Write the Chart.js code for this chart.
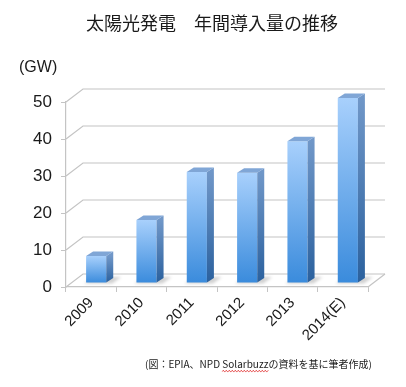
<!DOCTYPE html>
<html>
<head>
<meta charset="utf-8">
<script src="https://cdn.jsdelivr.net/npm/chart.js@4/dist/chart.umd.min.js"></script>
<style>
  html, body { margin: 0; padding: 0; background: #fff; }
  canvas { display: block; }
</style>
</head>
<body>
<canvas id="solarChart" width="406" height="387"></canvas>
<script>
// データ
const years = ['2009', '2010', '2011', '2012', '2013', '2014(E)'];
const installedGW = [7.3, 17, 30, 29.8, 38.3, 50];
const yMin = 0, yMax = 50, yStep = 10;

const titleText = '太陽光発電　年間導入量の推移';
const unitText = '(GW)';
const sourcePre = '(図：EPIA、NPD ';
const sourceWavy = 'Solarbuzz';
const sourcePost = 'の資料を基に筆者作成)';

// 3D look
const WALL_DX = 17, WALL_DY = 13;   // back wall offset
const BAR_DX = 7, BAR_DY = 4.5;     // bar thickness
const SHIFT_X = 5, SHIFT_Y = -4;    // bars sit a bit inside the floor
const lineGray = '#c4c4c4';
const textColor = '#1a1a1a';
const latinFont = '"Liberation Sans", Arial, sans-serif';
const cjkFont = '"Noto Sans CJK JP", "Liberation Sans", sans-serif';

const box3d = {
    id: 'box3d',
    beforeDatasetsDraw(chart) {
        const { ctx, chartArea: a, scales: { y } } = chart;
        ctx.save();
        ctx.strokeStyle = lineGray;
        ctx.lineWidth = 1.2;
        // back wall grid lines + diagonals from the front axis
        for (let v = yMin; v <= yMax; v += yStep) {
            const py = y.getPixelForValue(v);
            ctx.beginPath();
            ctx.moveTo(a.left, py);
            ctx.lineTo(a.left + WALL_DX, py - WALL_DY);
            ctx.lineTo(a.right + WALL_DX, py - WALL_DY);
            ctx.stroke();
        }
        // right edge of the floor
        ctx.beginPath();
        ctx.moveTo(a.right, a.bottom);
        ctx.lineTo(a.right + WALL_DX, a.bottom - WALL_DY);
        ctx.stroke();

        // soft shadows on the floor
        const meta = chart.getDatasetMeta(0);
        ctx.fillStyle = 'rgba(0,0,0,0.18)';
        ctx.filter = 'blur(1.5px)';
        meta.data.forEach(bar => {
            const l = bar.x - bar.width / 2 + SHIFT_X;
            const r = bar.x + bar.width / 2 + SHIFT_X;
            const b = bar.base + SHIFT_Y;
            ctx.beginPath();
            ctx.moveTo(l - 2, b + 1);
            ctx.lineTo(r + 6, b + 1);
            ctx.lineTo(r + BAR_DX + 8, b - BAR_DY - 1);
            ctx.lineTo(l + BAR_DX, b - BAR_DY - 1);
            ctx.closePath();
            ctx.fill();
        });
        ctx.restore();

        ctx.save();
        ctx.translate(SHIFT_X, SHIFT_Y);
    },
    afterDatasetsDraw(chart) {
        const { ctx } = chart;
        const meta = chart.getDatasetMeta(0);
        meta.data.forEach(bar => {
            const r = bar.x + bar.width / 2;
            const l = bar.x - bar.width / 2;
            const t = bar.y, b = bar.base;
            // side face
            const side = ctx.createLinearGradient(0, t, 0, b);
            side.addColorStop(0, '#7097c8');
            side.addColorStop(1, '#2b619e');
            ctx.fillStyle = side;
            ctx.beginPath();
            ctx.moveTo(r, t);
            ctx.lineTo(r + BAR_DX, t - BAR_DY);
            ctx.lineTo(r + BAR_DX, b - BAR_DY);
            ctx.lineTo(r, b);
            ctx.closePath();
            ctx.fill();
            // top face
            ctx.fillStyle = '#80a6d6';
            ctx.beginPath();
            ctx.moveTo(l, t);
            ctx.lineTo(l + BAR_DX, t - BAR_DY);
            ctx.lineTo(r + BAR_DX, t - BAR_DY);
            ctx.lineTo(r, t);
            ctx.closePath();
            ctx.fill();
        });
        ctx.restore();
    },
    afterDraw(chart) {
        const { ctx } = chart;
        ctx.save();
        ctx.fillStyle = textColor;
        ctx.textBaseline = 'middle';
        // title
        ctx.font = '18px ' + cjkFont;
        ctx.textAlign = 'center';
        ctx.fillText(titleText, 212, 23);
        // unit
        ctx.font = '16px ' + latinFont;
        ctx.textAlign = 'left';
        ctx.fillText(unitText, 19, 68);
        // source note
        ctx.font = '10px ' + cjkFont;
        const x0 = 145, ys = 364;
        ctx.fillText(sourcePre + sourceWavy + sourcePost, x0, ys);
        const wx = x0 + ctx.measureText(sourcePre).width;
        const ww = ctx.measureText(sourceWavy).width;
        ctx.strokeStyle = '#e03030';
        ctx.lineWidth = 0.8;
        ctx.beginPath();
        for (let i = 0; i <= ww; i += 1) {
            const yy = ys + 7 + (i % 3 === 1 ? -0.8 : 0.6);
            if (i === 0) ctx.moveTo(wx + i, yy); else ctx.lineTo(wx + i, yy);
        }
        ctx.stroke();
        ctx.restore();
    }
};

const ctx = document.getElementById('solarChart').getContext('2d');
new Chart(ctx, {
    type: 'bar',
    data: {
        labels: years,
        datasets: [{
            data: installedGW,
            clip: false,
            categoryPercentage: 1,
            barPercentage: 0.4,
            borderWidth: 0,
            backgroundColor: (c) => {
                const chart = c.chart;
                const y = chart.scales && chart.scales.y;
                if (!chart.chartArea || !y || c.type !== 'data') return '#6aaef0';
                const top = y.getPixelForValue(c.raw);
                const g = chart.ctx.createLinearGradient(0, top, 0, y.getPixelForValue(0));
                g.addColorStop(0, '#a8d0fc');
                g.addColorStop(1, '#3a8bdc');
                return g;
            }
        }]
    },
    options: {
        responsive: false,
        devicePixelRatio: 1,
        animation: false,
        layout: { padding: { top: 102, right: 38, bottom: 0, left: 0 } },
        plugins: {
            legend: { display: false },
            tooltip: { enabled: false },
            title: { display: false }
        },
        scales: {
            x: {
                grid: { display: true, drawOnChartArea: false, drawTicks: true, tickLength: 5, color: lineGray, offset: true },
                border: { display: true, color: lineGray, width: 1.2 },
                ticks: {
                    autoSkip: false, minRotation: 45, maxRotation: 45, padding: 2,
                    color: textColor, font: { family: latinFont, size: 15 }
                },
                afterFit(scale) { scale.height = 100; }
            },
            y: {
                min: yMin, max: yMax,
                grid: { display: true, drawOnChartArea: false, drawTicks: true, tickLength: 5, color: lineGray },
                border: { display: true, color: lineGray, width: 1.2 },
                ticks: {
                    stepSize: yStep, padding: 9,
                    color: textColor, font: { family: latinFont, size: 17 }
                },
                afterFit(scale) { scale.width = 66; }
            }
        }
    },
    plugins: [box3d]
});
</script>
</body>
</html>
